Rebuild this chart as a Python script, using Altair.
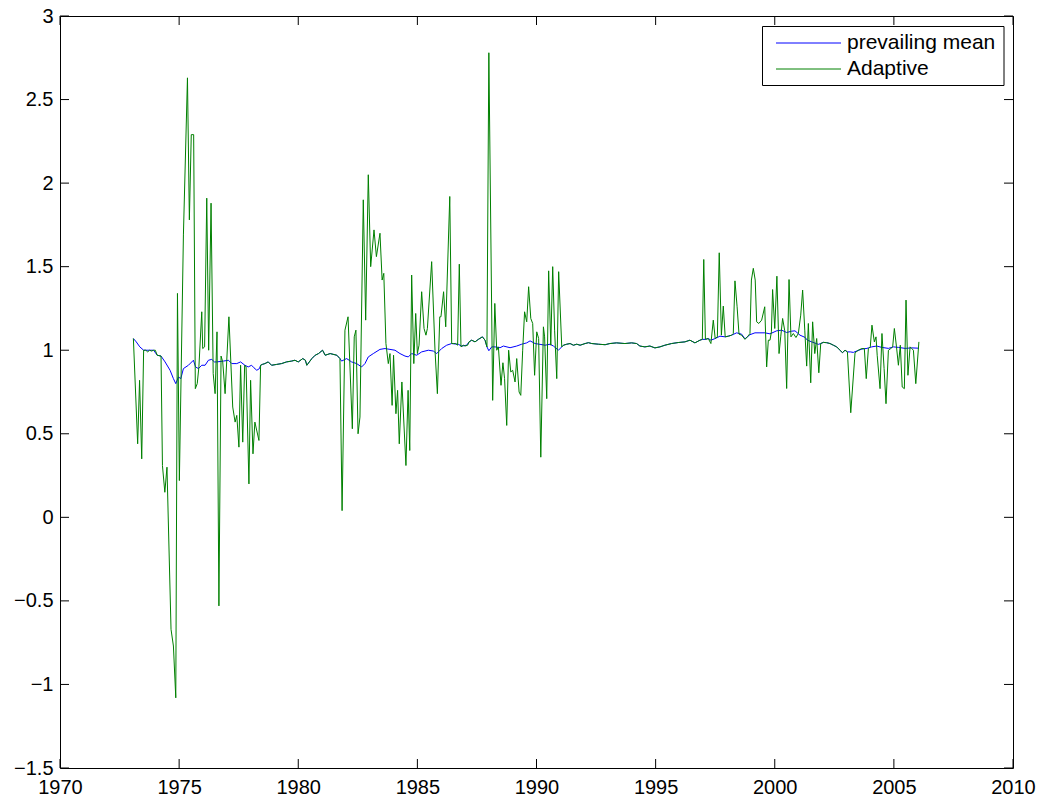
import altair as alt
import pandas as pd

# ---------------- data ----------------
mean_years = [
    1973.08, 1973.2, 1973.35, 1973.51, 1973.6, 1973.76, 1973.93, 1974.08, 1974.24,
    1974.41, 1974.62, 1974.76, 1974.86, 1974.97, 1975.07, 1975.18, 1975.39, 1975.6,
    1975.69, 1975.81, 1975.95, 1976.09, 1976.23, 1976.37, 1976.48, 1976.58, 1976.86,
    1977.07, 1977.21, 1977.42, 1977.58, 1977.76, 1977.9, 1978.04, 1978.14, 1978.26,
    1978.37, 1978.42,
    1978.49, 1978.6, 1978.74, 1978.88, 1979.09, 1979.3, 1979.51, 1979.72, 1979.86,
    1980.0, 1980.19, 1980.3, 1980.36, 1980.57, 1980.71, 1980.85, 1981.02, 1981.13,
    1981.34, 1981.62, 1981.75,
    1981.82, 1982.03, 1982.24, 1982.45, 1982.66, 1982.8, 1982.94, 1983.15, 1983.43,
    1983.64, 1983.85, 1984.06, 1984.27, 1984.48, 1984.62, 1984.76, 1984.97, 1985.18,
    1985.46, 1985.67, 1985.81, 1986.02, 1986.23, 1986.44, 1986.72, 1986.86, 1987.07,
    1987.17, 1987.28, 1987.42, 1987.56, 1987.73, 1987.84, 1987.92,
    1988.0, 1988.12, 1988.26, 1988.47, 1988.61, 1988.89, 1989.17, 1989.38, 1989.59,
    1989.73, 1989.94, 1990.15, 1990.36, 1990.57, 1990.71, 1990.92,
    1991.06, 1991.13, 1991.27, 1991.41, 1991.55, 1991.69, 1991.83, 1992.04, 1992.18,
    1992.32, 1992.6, 1992.88, 1993.08, 1993.36, 1993.71, 1993.99, 1994.2, 1994.34,
    1994.55, 1994.76, 1994.97, 1995.18, 1995.39, 1995.67, 1995.95, 1996.23, 1996.44,
    1996.65, 1996.86, 1996.96,
    1997.08, 1997.21, 1997.32, 1997.5, 1997.7, 1997.92, 1998.05, 1998.19, 1998.4,
    1998.61, 1998.75, 1998.96, 1999.17, 1999.38, 1999.59, 1999.8, 2000.08, 2000.29,
    2000.5, 2000.71, 2000.85, 2001.06, 2001.27, 2001.37, 2001.55, 2001.83,
    2001.93, 2002.04, 2002.18, 2002.32, 2002.46, 2002.6, 2002.74, 2002.84, 2002.95,
    2003.05,
    2003.17, 2003.3, 2003.45, 2003.66, 2003.87, 2004.07, 2004.28, 2004.49, 2004.77,
    2004.98, 2005.19, 2005.47, 2005.75, 2006.05,
]
mean_vals = [
    1.07, 1.05, 1.02, 1.0, 1.0, 1.0, 1.0, 0.97, 0.965,
    0.93, 0.88, 0.83, 0.80, 0.84, 0.83, 0.89, 0.91, 0.94,
    0.90, 0.89, 0.91, 0.91, 0.94, 0.945, 0.93, 0.93, 0.935,
    0.94, 0.92, 0.92, 0.93, 0.91, 0.90, 0.91, 0.895, 0.88,
    0.89, 0.91,
    0.915, 0.92, 0.93, 0.91, 0.915, 0.92, 0.93, 0.935, 0.94,
    0.93, 0.95, 0.94, 0.91, 0.95, 0.97, 0.98, 1.0, 0.97,
    0.98, 0.97, 0.95,
    0.935, 0.95, 0.93, 0.92, 0.90, 0.92, 0.96, 0.98, 1.005,
    1.01, 1.005, 1.0, 0.98, 0.965, 0.96, 0.98, 0.97, 0.99,
    1.0, 0.995, 0.98, 1.01, 1.03, 1.04, 1.035, 1.025, 1.03,
    1.05, 1.06, 1.05, 1.065, 1.08, 1.06, 1.02,
    0.997, 1.02, 1.02, 1.015, 1.025, 1.015, 1.025, 1.036, 1.044,
    1.056, 1.04, 1.035, 1.03, 1.036, 1.025, 1.0,
    1.02, 1.03, 1.036, 1.04, 1.03, 1.036, 1.03, 1.04, 1.045,
    1.04, 1.036, 1.033, 1.04, 1.044, 1.04, 1.044, 1.04, 1.025,
    1.02, 1.025, 1.014, 1.02, 1.03, 1.04, 1.046, 1.05, 1.06,
    1.044, 1.06, 1.065,
    1.065, 1.07, 1.06, 1.07, 1.084, 1.08, 1.084, 1.09, 1.104,
    1.096, 1.068, 1.093, 1.104, 1.104, 1.104, 1.098, 1.116, 1.12,
    1.106, 1.114, 1.116, 1.09, 1.077, 1.06, 1.05, 1.035,
    1.04, 1.047, 1.045, 1.04, 1.03, 1.02, 1.0, 0.985, 1.0,
    0.99,
    0.99, 0.987, 0.996, 1.007, 1.011, 1.02, 1.025, 1.017, 1.011,
    1.02, 1.017, 1.011, 1.014, 1.012,
]

adaptive_years = [
    1973.08, 1973.26, 1973.34, 1973.43, 1973.51, 1973.6, 1973.68, 1973.76, 1973.84,
    1973.93, 1974.0, 1974.08, 1974.24, 1974.30, 1974.40, 1974.49, 1974.66, 1974.76,
    1974.86, 1974.93, 1975.01, 1975.18, 1975.35, 1975.43, 1975.51, 1975.61, 1975.68,
    1975.76, 1975.83, 1975.95, 1975.99, 1976.07, 1976.16, 1976.24, 1976.34, 1976.43,
    1976.51, 1976.59, 1976.67, 1976.76, 1976.83, 1976.93, 1977.09, 1977.25, 1977.35,
    1977.42, 1977.51, 1977.58, 1977.67, 1977.75, 1977.81, 1977.93, 1978.0, 1978.1,
    1978.18, 1978.35, 1978.42,
    1978.49, 1978.6, 1978.74, 1978.88, 1979.09, 1979.3, 1979.51, 1979.72, 1979.86,
    1980.0, 1980.19, 1980.3, 1980.36, 1980.57, 1980.71, 1980.85, 1981.02, 1981.13,
    1981.34, 1981.62, 1981.75,
    1981.84, 1981.96, 1982.09, 1982.27, 1982.35, 1982.42, 1982.51, 1982.59, 1982.73,
    1982.83, 1982.94, 1983.04, 1983.18, 1983.28, 1983.43, 1983.52, 1983.59, 1983.68,
    1983.78, 1983.85, 1983.94, 1984.0, 1984.1, 1984.17, 1984.24, 1984.35, 1984.52,
    1984.61, 1984.68, 1984.76, 1984.85, 1984.93, 1985.0, 1985.07, 1985.18, 1985.28,
    1985.36, 1985.42, 1985.6, 1985.74, 1985.84, 1985.94, 1985.99, 1986.1, 1986.19,
    1986.36, 1986.44, 1986.52, 1986.61, 1986.69, 1986.76, 1986.83, 1986.93, 1987.0,
    1987.11,
    1987.17, 1987.28, 1987.42, 1987.56, 1987.73, 1987.84, 1987.92,
    1988.0, 1988.16, 1988.25, 1988.33, 1988.4, 1988.51, 1988.59, 1988.66, 1988.75,
    1988.83, 1988.92, 1989.0, 1989.1, 1989.17, 1989.27, 1989.34, 1989.42, 1989.5,
    1989.59, 1989.67, 1989.76, 1989.84, 1989.92, 1990.01, 1990.09, 1990.18, 1990.29,
    1990.34, 1990.43, 1990.51, 1990.6, 1990.68, 1990.76, 1990.85, 1990.93,
    1991.06, 1991.13, 1991.27, 1991.41, 1991.55, 1991.69, 1991.83, 1992.04, 1992.18,
    1992.32, 1992.6, 1992.88, 1993.08, 1993.36, 1993.71, 1993.99, 1994.2, 1994.34,
    1994.55, 1994.76, 1994.97, 1995.18, 1995.39, 1995.67, 1995.95, 1996.23, 1996.44,
    1996.65, 1996.86, 1996.96,
    1997.02, 1997.09, 1997.21, 1997.32, 1997.42, 1997.5, 1997.59, 1997.67, 1997.76,
    1997.84, 1997.92, 1998.05, 1998.19, 1998.26, 1998.33, 1998.42, 1998.5, 1998.61,
    1998.75, 1998.85, 1998.96, 1999.02, 1999.1, 1999.18, 1999.24, 1999.33, 1999.45,
    1999.58, 1999.66, 1999.73, 1999.8, 1999.86, 1999.91, 2000.0, 2000.09, 2000.18,
    2000.25, 2000.33, 2000.42, 2000.5, 2000.6, 2000.68, 2000.78, 2000.89, 2000.99,
    2001.09, 2001.17, 2001.26, 2001.34, 2001.41, 2001.51, 2001.59, 2001.68, 2001.76,
    2001.85,
    2001.93, 2002.04, 2002.18, 2002.32, 2002.46, 2002.6, 2002.74, 2002.84, 2002.95,
    2003.05,
    2003.19, 2003.37, 2003.51, 2003.65, 2003.76, 2003.84, 2003.93, 2004.01, 2004.08,
    2004.18, 2004.25, 2004.3, 2004.42, 2004.5, 2004.59, 2004.67, 2004.77, 2004.87,
    2004.95, 2005.02, 2005.11, 2005.19, 2005.27, 2005.35, 2005.44, 2005.51, 2005.59,
    2005.68, 2005.75, 2005.82, 2005.92, 2006.05,
]
adaptive_vals = [
    1.07, 0.44, 0.82, 0.35, 1.0, 1.0, 0.99, 1.0, 0.995,
    1.0, 1.0, 0.97, 0.965, 0.31, 0.15, 0.30, -0.67, -0.77,
    -1.08, 1.34, 0.22, 1.69, 2.63, 1.78, 2.29, 2.29, 0.77,
    0.80, 0.90, 1.23, 1.01, 1.02, 1.91, 1.0, 1.88, 0.86,
    0.74, 1.11, -0.53, 0.965, 0.93, 0.74, 1.20, 0.66, 0.57,
    0.61, 0.42, 0.91, 0.45, 0.91, 0.90, 0.20, 0.82, 0.38,
    0.57, 0.46, 0.91,
    0.915, 0.92, 0.93, 0.91, 0.915, 0.92, 0.93, 0.935, 0.94,
    0.93, 0.95, 0.94, 0.91, 0.95, 0.97, 0.98, 1.0, 0.97,
    0.98, 0.97, 0.95,
    0.04, 1.12, 1.20, 0.53, 1.08, 1.12, 0.50, 0.60, 1.90,
    1.18, 2.05, 1.50, 1.72, 1.56, 1.70, 1.42, 1.46, 1.04,
    0.92, 0.98, 0.67, 0.97, 0.62, 0.76, 0.44, 0.81, 0.31,
    0.76, 0.40, 1.45, 0.92, 1.22, 0.98, 1.03, 1.35, 1.13,
    1.09, 1.13, 1.53, 1.0, 0.74, 1.20, 1.20, 1.35, 1.14,
    1.92, 1.04, 1.04, 1.04, 1.03, 1.515, 1.02, 1.03, 1.025,
    1.03,
    1.05, 1.06, 1.05, 1.065, 1.08, 1.06, 1.02,
    2.78, 0.70, 1.28, 1.0, 1.02, 0.79, 0.925, 0.83, 0.55,
    1.0, 0.87, 0.88, 0.81, 0.95, 0.75, 0.73, 1.0, 1.23,
    1.17, 1.38, 1.19, 1.16, 0.85, 1.11, 1.07, 0.36, 1.14,
    1.08, 0.71, 1.475, 1.03, 1.50, 1.12, 0.83, 1.47,
    1.02, 1.03, 1.036, 1.04, 1.03, 1.036, 1.03, 1.04, 1.045,
    1.04, 1.036, 1.033, 1.04, 1.044, 1.04, 1.044, 1.04, 1.025,
    1.02, 1.025, 1.014, 1.02, 1.03, 1.04, 1.046, 1.05, 1.06,
    1.044, 1.06, 1.065,
    1.543, 1.065, 1.07, 1.04, 1.18, 1.07, 1.08, 1.583, 1.09,
    1.264, 1.08, 1.084, 1.09, 1.10, 1.415, 1.26, 1.096, 1.09,
    1.065, 1.08, 1.10, 1.42, 1.49, 1.42, 1.17, 1.16, 1.18,
    1.26, 0.90, 1.06, 1.06, 1.11, 1.363, 1.13, 1.443, 0.98,
    1.08, 1.19, 1.116, 0.771, 1.423, 1.08, 1.10, 1.076, 1.10,
    1.21, 1.36, 1.12, 0.905, 1.16, 0.805, 1.17, 0.98, 1.07,
    0.865,
    1.04, 1.047, 1.045, 1.04, 1.03, 1.02, 1.0, 0.985, 1.0,
    0.99,
    0.626, 0.985, 1.0, 1.01, 1.01, 0.83, 1.01, 1.02, 1.15,
    1.05, 1.08, 0.97, 0.77, 1.10, 0.89, 0.68, 1.0, 1.01,
    1.02, 1.13, 1.02, 0.91, 1.03, 0.78, 0.77, 1.30, 0.85,
    1.02, 1.01, 1.0, 0.80, 1.05,
]

x_tick_values = [1970, 1975, 1980, 1985, 1990, 1995, 2000, 2005, 2010]
y_tick_values = [-1.5, -1.0, -0.5, 0.0, 0.5, 1.0, 1.5, 2.0, 2.5, 3.0]
series_names = ["prevailing mean", "Adaptive"]
series_colors = ["#0000ff", "#008000"]

# ---------------- layout constants ----------------
W, H = 953, 752
FONT = "Liberation Sans"
TICK = 9

df_mean = pd.DataFrame({"year": mean_years, "value": mean_vals})
df_adapt = pd.DataFrame({"year": adaptive_years, "value": adaptive_vals})
df_xt = pd.DataFrame({"year": x_tick_values})
df_yt = pd.DataFrame({"value": y_tick_values})
one = pd.DataFrame({"k": [0]})

xs = alt.Scale(domain=[1970, 2010], nice=False, zero=False)
ys = alt.Scale(domain=[-1.5, 3], nice=False, zero=False)

x_axis = alt.Axis(values=x_tick_values, format="d", title=None, grid=False,
                  ticks=False, domain=False, labelFontSize=20, labelFont=FONT,
                  labelColor="black", labelPadding=9, labelFlush=False)
y_axis = alt.Axis(values=y_tick_values, format="~g", title=None, grid=False,
                  ticks=False, domain=False, labelFontSize=20, labelFont=FONT,
                  labelColor="black", labelPadding=7)

X = alt.X("year:Q", scale=xs, axis=x_axis)
Y = alt.Y("value:Q", scale=ys, axis=y_axis)

mean_line = alt.Chart(df_mean).mark_line(color=series_colors[0], strokeWidth=1).encode(x=X, y=Y)
adapt_line = alt.Chart(df_adapt).mark_line(color=series_colors[1], strokeWidth=1).encode(x=X, y=Y)

# inward ticks on all four sides (MATLAB box style)
xt_bottom = alt.Chart(df_xt).mark_rule(color="black", strokeWidth=1).encode(
    x=X, y=alt.value(H), y2=alt.value(H - TICK))
xt_top = alt.Chart(df_xt).mark_rule(color="black", strokeWidth=1).encode(
    x=X, y=alt.value(0), y2=alt.value(TICK))
yt_left = alt.Chart(df_yt).mark_rule(color="black", strokeWidth=1).encode(
    y=Y, x=alt.value(0), x2=alt.value(TICK))
yt_right = alt.Chart(df_yt).mark_rule(color="black", strokeWidth=1).encode(
    y=Y, x=alt.value(W), x2=alt.value(W - TICK))

# legend box (MATLAB style)
LX0, LX1, LY0, LY1 = 702.5, 944, 10.5, 69.5
legend_box = alt.Chart(one).mark_rect(fill="white", stroke="black", strokeWidth=1).encode(
    x=alt.value(LX0), x2=alt.value(LX1), y=alt.value(LY0), y2=alt.value(LY1))
legend_layers = [legend_box]
for i, (name, col) in enumerate(zip(series_names, series_colors)):
    yy = 27 + 26 * i
    legend_layers.append(
        alt.Chart(one).mark_rule(color=col, strokeWidth=1).encode(
            x=alt.value(716), x2=alt.value(781), y=alt.value(yy)))
    legend_layers.append(
        alt.Chart(one).mark_text(align="left", baseline="middle", fontSize=21,
                                 font=FONT, color="black").encode(
            x=alt.value(787), y=alt.value(yy), text=alt.value(name)))

chart = alt.layer(
    mean_line, adapt_line, xt_bottom, xt_top, yt_left, yt_right, *legend_layers
).properties(
    width=W, height=H,
    autosize=alt.AutoSizeParams(type="none"),
    padding={"left": 60, "top": 16, "right": 34, "bottom": 38},
    background="white",
).configure_view(stroke="black", strokeWidth=1)

chart.save("out.html", embed_options={"renderer": "svg", "actions": False})
